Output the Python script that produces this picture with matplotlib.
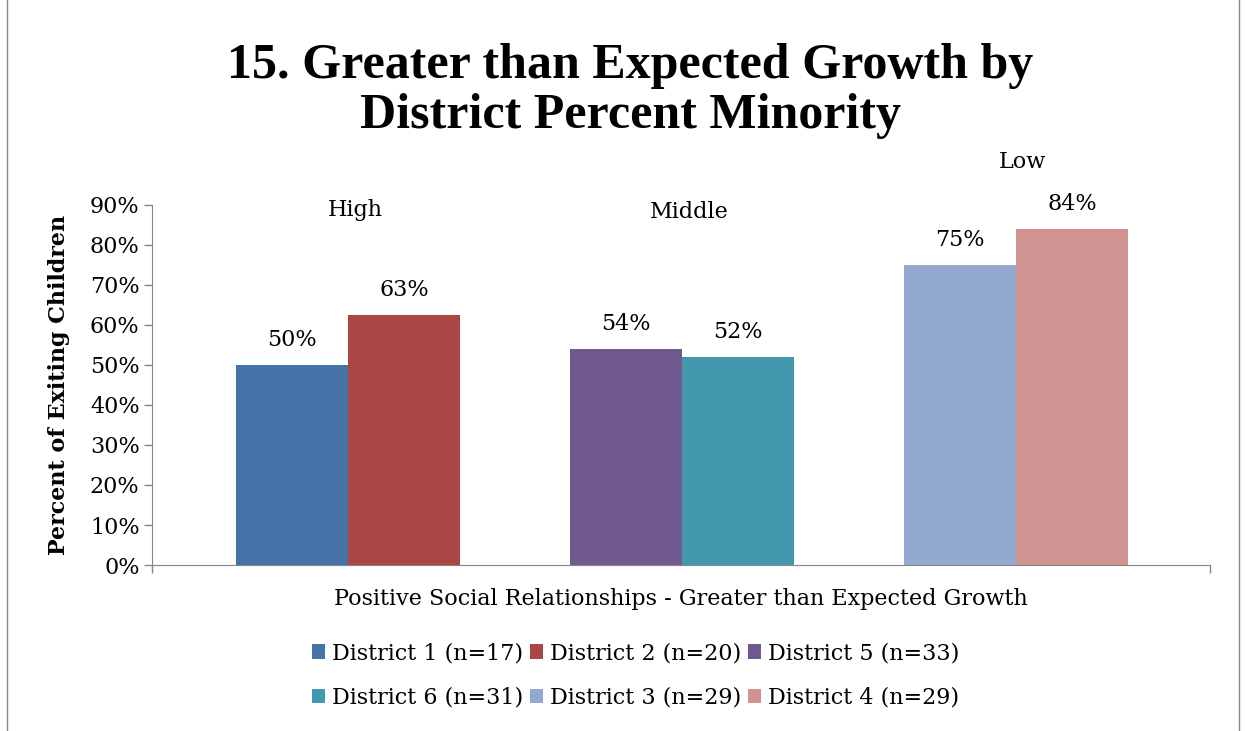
import matplotlib.pyplot as plt
from matplotlib.patches import Rectangle

plt.rcParams['font.family'] = ['DejaVu Serif', 'Liberation Serif']

# data
grupos = ["High", "Middle", "Low"]
series = ["District 1 (n=17)", "District 2 (n=20)", "District 5 (n=33)",
          "District 6 (n=31)", "District 3 (n=29)", "District 4 (n=29)"]
grupo_de_serie = [0, 0, 1, 1, 2, 2]
valores = [0.50, 0.625, 0.54, 0.52, 0.75, 0.84]
etiquetas = ["50%", "63%", "54%", "52%", "75%", "84%"]
colores = ["#4572A7", "#AA4643", "#71588F", "#4198AF", "#93A9CF", "#D19392"]

fig = plt.figure(figsize=(12.46, 7.31), dpi=100)
ax = fig.add_axes([0.122, 0.227, 0.849, 0.493])

fs = 16
ancho = 0.335
handles = []
for i, (nombre, g, v, et, c) in enumerate(zip(series, grupo_de_serie, valores, etiquetas, colores)):
    lado = -0.5 if i % 2 == 0 else 0.5
    x = g + lado * ancho
    b = ax.bar(x, v, width=ancho, color=c, label=nombre)
    handles.append(b)
    ax.text(x, v + 0.062, et, ha="center", va="center", fontsize=fs, clip_on=False)

# etiquetas de grupo
alturas_grupo = [0.8875, 0.8825, 1.0075]
for g, (nom, h) in enumerate(zip(grupos, alturas_grupo)):
    ax.text(g + 0.02, h, nom, ha="center", va="center", fontsize=fs, clip_on=False)

ax.set_xlim(-0.587, 2.58)
ax.set_ylim(0, 0.9)
ax.set_yticks([i / 10 for i in range(10)])
ax.set_yticklabels([f"{i * 10}%" for i in range(10)], fontsize=fs)
ax.set_xticks([-0.587, 2.58])
ax.set_xticklabels(["", ""])
ax.tick_params(axis="both", color="#868686", length=6, width=1)
ax.tick_params(axis="y", pad=3)

for s in ["top", "right"]:
    ax.spines[s].set_visible(False)
for s in ["left", "bottom"]:
    ax.spines[s].set_color("#868686")

ax.set_ylabel("Percent of Exiting Children", fontsize=fs, fontweight="bold", labelpad=14)
ax.set_xlabel("Positive Social Relationships - Greater than Expected Growth", fontsize=fs, labelpad=7)

fig.suptitle("15. Greater than Expected Growth by\nDistrict Percent Minority",
             x=0.506, y=0.941, fontsize=36, fontweight="bold", linespacing=1.1,
             family=["Liberation Serif", "DejaVu Serif"])

# orden para que la leyenda se lea por filas
orden = [0, 3, 1, 4, 2, 5]
fig.legend(handles=[handles[i] for i in orden], labels=[series[i] for i in orden],
           loc="center", bbox_to_anchor=(0.51, 0.076),
           ncol=3, frameon=False, fontsize=fs, handlelength=0.6, handleheight=0.6,
           handletextpad=0.3, columnspacing=0.3, labelspacing=1.0)

# marco del grafico
fig.patches.append(Rectangle((0.006, -0.01), 0.988, 1.02, transform=fig.transFigure,
                             fill=False, edgecolor="#868686", linewidth=1))

fig.savefig("out.png", dpi=100)
